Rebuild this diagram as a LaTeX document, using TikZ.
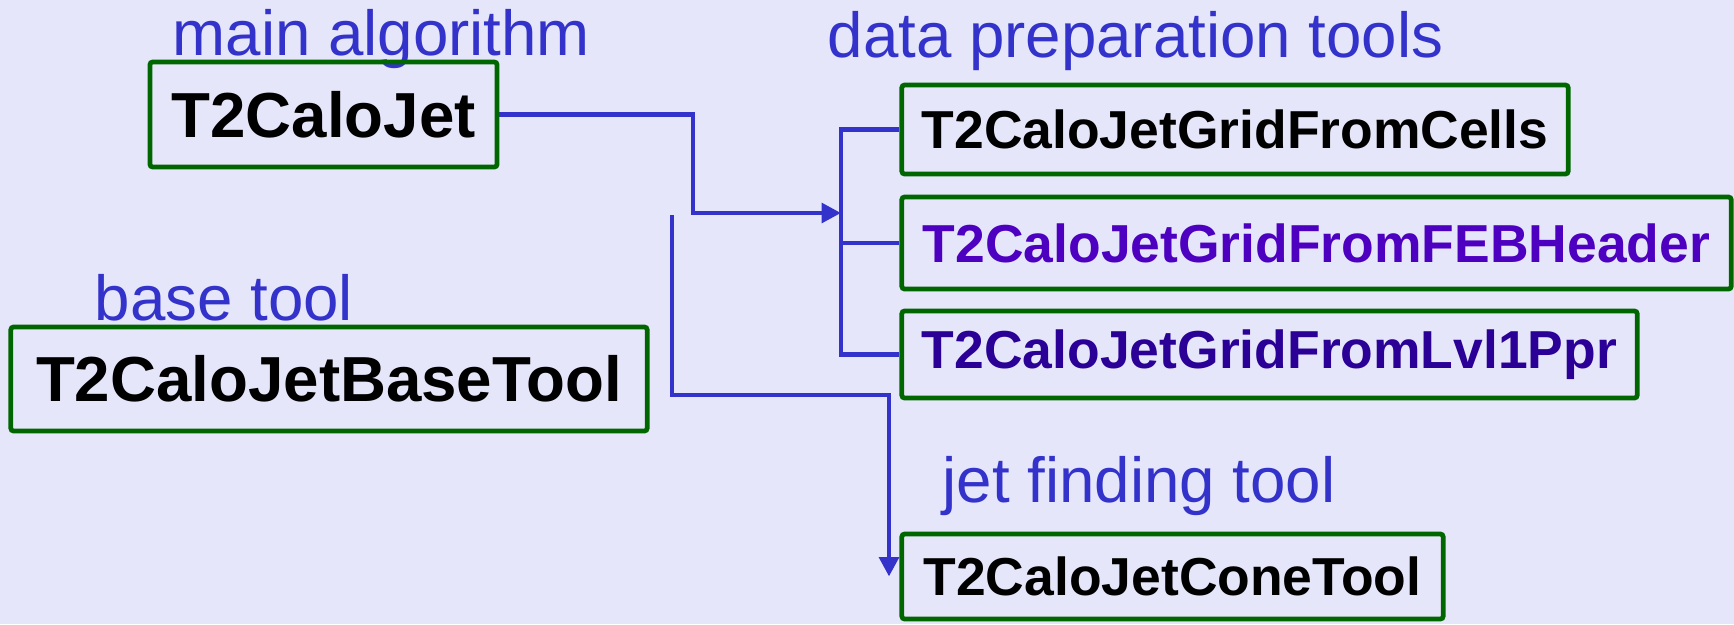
\documentclass[tikz,border=0pt]{standalone}
\usepackage{fontspec}
\setmainfont{Liberation Sans}
\usepackage{tikz}
\usetikzlibrary{arrows.meta}

\definecolor{bglavender}{RGB}{230,230,250}
\definecolor{headblue}{RGB}{51,51,204}
\definecolor{linkblue}{RGB}{51,51,204}
\definecolor{boxgreen}{RGB}{0,102,0}
\definecolor{febpurple}{RGB}{78,0,192}
\definecolor{lvlpurple}{RGB}{42,0,150}

\begin{document}
\begin{tikzpicture}[
    x = 0.01cm, y = -0.01cm,
    every node/.style = {inner sep = 0pt},
    heading/.style = {anchor = base west, text = headblue,
      font = \fontsize{18.1}{22}\selectfont},
    bigbox/.style = {draw = boxgreen, line width = 1.35pt, rounded corners = 0.8pt,
      font = \fontsize{18.1}{22}\selectfont\bfseries},
    toolbox/.style = {draw = boxgreen, line width = 1.35pt, rounded corners = 0.8pt,
      font = \fontsize{15.2}{18}\selectfont\bfseries},
    link/.style = {draw = linkblue, line width = 1.3pt},
    arrow/.style = {link, -{Triangle[length = 5.5pt, width = 5.5pt]}}
  ]
  \fill[bglavender] (0,0) rectangle (1734,624);
  \useasboundingbox (0,0) rectangle (1734,624);

  % headings
  \node[heading] (hmain) at (172,55) {main algorithm};
  \node[heading] (hdata) at (827,57) {data preparation tools};
  \node[heading] (hbase) at (94,320) {base tool};
  \node[heading] (hjet)  at (942,502) {jet finding tool};

  % boxes
  \node[bigbox, minimum width = 3.47cm, minimum height = 1.05cm]
    (calojet) at (323.5,114.5) {T2CaloJet};
  \node[bigbox, minimum width = 6.36cm, minimum height = 1.04cm]
    (basetool) at (329,379) {T2CaloJetBaseTool};
  \node[toolbox, minimum width = 6.66cm, minimum height = 0.89cm]
    (cells) at (1235,129.5) {T2CaloJetGridFromCells};
  \node[toolbox, text = febpurple, minimum width = 8.29cm, minimum height = 0.92cm]
    (feb) at (1316.5,243) {T2CaloJetGridFromFEBHeader};
  \node[toolbox, text = lvlpurple, minimum width = 7.35cm, minimum height = 0.87cm]
    (lvl) at (1269.5,354.5) {T2CaloJetGridFromLvl1Ppr};
  \node[toolbox, minimum width = 5.41cm, minimum height = 0.85cm]
    (cone) at (1172.5,576.5) {T2CaloJetConeTool};

  % connectors
  \coordinate (elbow) at (693,213);
  \coordinate (bus) at (841,213);
  \coordinate (start) at (672,215);
  \coordinate (turn) at (889,395);

  \draw[arrow] (calojet.east) -| (elbow) -- (bus);
  \draw[link] (cells.west) -| (lvl.west -| bus) -- (lvl.west);
  \draw[link] (feb.west) -- (feb.west -| bus);
  \draw[arrow] (start) |- (turn) -- (turn |- cone.west);

\end{tikzpicture}
\end{document}
